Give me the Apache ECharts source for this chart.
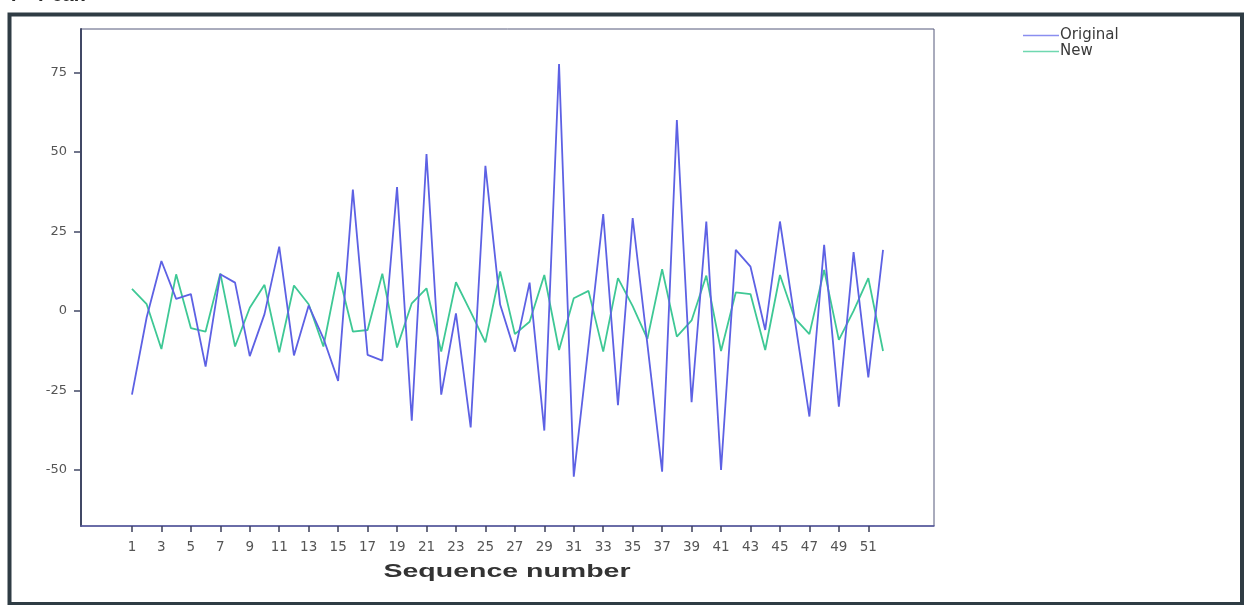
<!DOCTYPE html>
<html>
<head>
<meta charset="utf-8">
<script src="https://cdn.jsdelivr.net/npm/echarts@6/dist/echarts.min.js"></script>
<style>
  html, body { margin: 0; padding: 0; background: #ffffff; }
  #chart { width: 1249px; height: 605px; }
</style>
</head>
<body>
<div id="chart"></div>
<script>
// Sequence numbers 1..52
const sequence = [
  1, 2, 3, 4, 5, 6, 7, 8, 9, 10, 11, 12, 13, 14, 15, 16, 17, 18, 19, 20,
  21, 22, 23, 24, 25, 26, 27, 28, 29, 30, 31, 32, 33, 34, 35, 36, 37, 38, 39, 40,
  41, 42, 43, 44, 45, 46, 47, 48, 49, 50, 51, 52
];

// Original series
const originalValues = [
  -26.3, -2, 15.7, 3.8, 5.3, -17.5, 11.5, 8.9, -14.2, -1, 20.2, -14, 1.7, -8.6, -22, 38.1, -13.8, -15.6, 38.9, -34.5,
  49.3, -26.3, -0.8, -36.6, 45.6, 2, -12.8, 8.9, -37.6, 77.6, -52.1, -11, 30.4, -29.6, 29.2, -10.5, -50.5, 60, -28.7, 28.1,
  -50, 19.2, 13.9, -6, 28.1, -2.5, -33.2, 20.8, -30.1, 18.5, -20.9, 19.2
];

// New series
const newValues = [
  6.9, 2.1, -12, 11.5, -5.4, -6.5, 11.8, -11.2, 1, 8.2, -13, 8, 2.1, -11.2, 12.2, -6.5, -6, 11.7, -11.5, 2.4,
  7.1, -12.8, 9, -0.3, -9.9, 12.4, -7.3, -3.4, 11.3, -12.3, 4, 6.3, -12.8, 10.3, 1.5, -8.8, 13.1, -8.1, -3, 11.1,
  -12.6, 5.8, 5.3, -12.3, 11.3, -2.3, -7.3, 12.9, -9.1, 0, 10.3, -12.6
];

// Tick labels
const xTickValues = [1, 3, 5, 7, 9, 11, 13, 15, 17, 19, 21, 23, 25, 27, 29, 31, 33, 35, 37, 39, 41, 43, 45, 47, 49, 51];
const yTickValues = [-50, -25, 0, 25, 50, 75];

const seriesNames = ['Original', 'New'];
const colors = ['#5d61e4', '#3ec895'];
const xAxisTitle = 'Sequence number';
const chartTitle = 'Y - Peak';

const chart = echarts.init(document.getElementById('chart'), null, { renderer: 'canvas' });

const sansFont = 'Liberation Sans, Arial, sans-serif';
const wideFont = 'DejaVu Sans, sans-serif';

chart.setOption({
  animation: false,
  backgroundColor: '#ffffff',
  color: colors,
  title: {
    text: chartTitle,
    left: 2,
    top: -20,
    textStyle: { fontFamily: sansFont, fontSize: 20, fontWeight: 'bold', color: '#2b2b2b' }
  },
  graphic: [
    {
      // outer frame
      type: 'rect',
      shape: { x: 9.5, y: 14.5, width: 1232.5, height: 589.5 },
      style: { fill: 'none', stroke: '#2f3c44', lineWidth: 4 },
      z: 0
    },
    {
      // x-axis title, drawn wide
      type: 'text',
      x: 507,
      y: 572,
      scaleX: 1.5,
      style: {
        text: xAxisTitle,
        font: 'bold 19px ' + sansFont,
        fill: '#333333',
        align: 'center',
        verticalAlign: 'middle'
      }
    }
  ],
  legend: {
    orient: 'vertical',
    left: 1018,
    top: 23,
    itemGap: 1,
    itemWidth: 36,
    itemHeight: 14,
    icon: 'path://M0,6.5 L36,6.5 L36,8 L0,8 Z',
    textStyle: { fontFamily: wideFont, fontSize: 15, lineHeight: 14, color: '#3a3a3a', padding: [0, 0, 0, -4] },
    data: [
      { name: seriesNames[0], itemStyle: { color: '#8a8ef0' } },
      { name: seriesNames[1], itemStyle: { color: '#6fd8b0' } }
    ]
  },
  grid: {
    left: 81,
    top: 29,
    right: 315,
    bottom: 79,
    show: true,
    borderColor: '#55597a',
    borderWidth: 1,
    containLabel: false
  },
  xAxis: {
    type: 'value',
    min: -2.46,
    max: 55.46,
    axisLine: { show: true, onZero: false, lineStyle: { color: '#5558a0', width: 1.5 } },
    axisTick: {
      show: true,
      customValues: xTickValues,
      length: 6,
      inside: false,
      lineStyle: { color: '#3c3f5a', width: 1.5 }
    },
    axisLabel: {
      customValues: xTickValues,
      margin: 14,
      fontFamily: wideFont,
      fontSize: 13.5,
      color: '#555555'
    },
    splitLine: { show: false }
  },
  yAxis: {
    type: 'value',
    min: -67.6,
    max: 88.6,
    axisLine: { show: true, onZero: false, lineStyle: { color: '#414866', width: 2 } },
    axisTick: {
      show: true,
      customValues: yTickValues,
      length: 7,
      lineStyle: { color: '#414866', width: 1.5 }
    },
    axisLabel: {
      customValues: yTickValues,
      margin: 14,
      fontFamily: wideFont,
      fontSize: 13,
      color: '#555555'
    },
    splitLine: { show: false }
  },
  series: [
    {
      name: seriesNames[0],
      type: 'line',
      data: sequence.map((s, i) => [s, originalValues[i]]),
      showSymbol: false,
      symbol: 'none',
      lineStyle: { width: 1.8, color: colors[0] },
      z: 3
    },
    {
      name: seriesNames[1],
      type: 'line',
      data: sequence.map((s, i) => [s, newValues[i]]),
      showSymbol: false,
      symbol: 'none',
      lineStyle: { width: 1.8, color: colors[1] },
      z: 2
    }
  ]
});
</script>
</body>
</html>
